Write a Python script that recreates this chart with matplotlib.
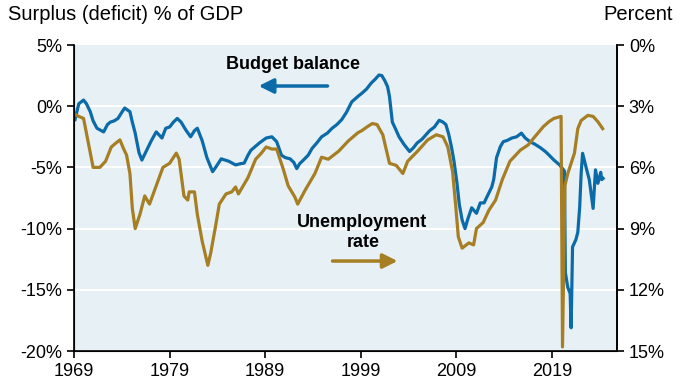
import matplotlib.pyplot as plt

plt.rcParams['font.family'] = ['Liberation Sans', 'DejaVu Sans']

# Budget balance, 12-month sum, % of GDP (left axis)
budget_years = [1969.1, 1969.5, 1970.0, 1970.3, 1970.7, 1971.0, 1971.4, 1972.1, 1972.5, 1972.8,
                1973.2, 1973.6, 1974.0, 1974.3, 1974.85, 1975.1, 1975.4, 1975.8, 1976.1, 1976.6,
                1977.1, 1977.6, 1978.2, 1978.6, 1979.0, 1979.4, 1979.8, 1980.2, 1980.7, 1981.2,
                1981.6, 1981.9, 1982.4, 1982.9, 1983.5, 1983.9, 1984.4, 1985.2, 1985.9, 1986.4,
                1986.8, 1987.2, 1987.5, 1988.4, 1989.1, 1989.7, 1990.2, 1990.7, 1991.1, 1991.6,
                1992.0, 1992.3, 1992.6, 1993.0, 1993.5, 1993.9, 1994.4, 1994.9, 1995.5, 1996.0,
                1996.5, 1997.0, 1997.5, 1998.05, 1998.7, 1999.1, 1999.6, 2000.1, 2000.5, 2000.9,
                2001.2, 2001.5, 2001.8, 2002.0, 2002.3, 2002.6, 2003.0, 2003.5, 2004.1, 2004.5,
                2004.9, 2005.4, 2005.8, 2006.2, 2006.7, 2007.2, 2007.6, 2007.9, 2008.2, 2008.5,
                2008.75, 2009.05, 2009.3, 2009.6, 2009.9, 2010.2, 2010.6, 2011.1, 2011.5, 2011.9,
                2012.2, 2012.7, 2012.9, 2013.2, 2013.6, 2013.9, 2014.3, 2014.8, 2015.3, 2015.8,
                2016.2, 2016.7, 2017.2, 2017.8, 2018.3, 2018.7, 2019.2, 2019.8, 2020.1, 2020.3,
                2020.4, 2020.65, 2020.9, 2021.0, 2021.15, 2021.5, 2021.7, 2021.9, 2022.05, 2022.2,
                2022.6, 2022.9, 2023.3, 2023.45, 2023.55, 2023.8, 2024.1, 2024.2, 2024.35]
budget_vals = [-1.1, 0.2, 0.5, 0.2, -0.45, -1.2, -1.8, -2.1, -1.5, -1.3,
               -1.2, -1.0, -0.5, -0.15, -0.45, -1.3, -2.2, -3.8, -4.4, -3.6,
               -2.8, -2.1, -2.6, -1.8, -1.7, -1.3, -1.0, -1.3, -1.95, -2.5,
               -2.0, -1.8, -2.8, -4.2, -5.35, -4.9, -4.3, -4.5, -4.8, -4.7,
               -4.65, -4.0, -3.6, -3.0, -2.6, -2.5, -2.9, -4.0, -4.2, -4.3,
               -4.6, -5.1, -4.7, -4.4, -4.0, -3.45, -3.0, -2.5, -2.2, -1.8,
               -1.5, -1.1, -0.5, 0.35, 0.8, 1.05, 1.4, 1.9, 2.2, 2.55,
               2.5, 2.1, 1.6, 0.8, -1.3, -1.8, -2.5, -3.1, -3.7, -3.4,
               -3.0, -2.7, -2.35, -2.0, -1.7, -1.15, -1.3, -1.5, -2.3, -3.4,
               -4.5, -6.2, -8.0, -9.3, -10.0, -9.2, -8.3, -8.75, -7.9, -7.9,
               -7.4, -6.6, -6.0, -4.2, -3.3, -2.9, -2.8, -2.6, -2.5, -2.2,
               -2.6, -2.9, -3.1, -3.4, -3.7, -4.0, -4.4, -4.8, -5.1, -5.3,
               -13.6, -14.8, -15.3, -18.1, -11.5, -10.9, -10.3, -8.2, -5.5, -3.85,
               -5.1, -6.0, -8.35, -6.5, -5.2, -6.3, -5.4, -6.0, -5.9]

# Unemployment rate, % (right axis, inverted)
unemp_years = [1969.1, 1969.5, 1970.0, 1970.5, 1971.0, 1971.7, 1972.3, 1972.9, 1973.4, 1973.8,
               1974.2, 1974.5, 1974.85, 1975.1, 1975.4, 1975.9, 1976.4, 1976.9, 1977.6, 1978.3,
               1979.0, 1979.7, 1980.0, 1980.5, 1980.9, 1981.05, 1981.6, 1981.9, 1982.4, 1983.0,
               1983.3, 1983.8, 1984.2, 1984.9, 1985.5, 1985.9, 1986.2, 1986.7, 1987.2, 1988.0,
               1988.6, 1989.1, 1989.7, 1990.2, 1990.9, 1991.4, 1992.1, 1992.4, 1993.2, 1994.2,
               1994.9, 1995.6, 1996.7, 1997.7, 1998.7, 1999.1, 1999.7, 2000.2, 2000.7, 2001.3,
               2001.7, 2002.0, 2002.7, 2003.4, 2003.9, 2004.95, 2006.0, 2006.9, 2007.6, 2008.1,
               2008.6, 2008.95, 2009.2, 2009.6, 2010.3, 2010.8, 2011.1, 2011.8, 2012.4, 2013.1,
               2013.8, 2014.6, 2015.7, 2016.5, 2017.2, 2018.1, 2018.7, 2019.2, 2019.95, 2020.1,
               2020.35, 2020.65, 2021.0, 2021.35, 2021.7, 2022.05, 2022.75, 2023.3, 2023.8, 2024.3]
unemp_vals = [3.4, 3.5, 3.6, 4.8, 6.0, 6.0, 5.7, 5.0, 4.8, 4.65,
              5.1, 5.4, 6.3, 8.0, 9.0, 8.3, 7.4, 7.8, 6.9, 6.0,
              5.8, 5.3, 5.6, 7.4, 7.6, 7.2, 7.2, 8.3, 9.6, 10.8,
              10.2, 8.9, 7.8, 7.3, 7.2, 6.96, 7.3, 6.9, 6.5, 5.6,
              5.3, 5.0, 5.1, 5.1, 6.1, 6.9, 7.45, 7.8, 7.1, 6.3,
              5.5, 5.6, 5.2, 4.7, 4.3, 4.2, 4.0, 3.85, 3.9, 4.4,
              5.2, 5.8, 5.9, 6.3, 5.7, 5.2, 4.65, 4.4, 4.5, 5.0,
              6.2, 8.0, 9.4, 9.96, 9.7, 9.8, 9.0, 8.7, 8.1, 7.6,
              6.6, 5.7, 5.15, 4.9, 4.5, 4.0, 3.75, 3.6, 3.5, 14.8,
              6.9, 6.3, 5.8, 5.3, 4.1, 3.7, 3.45, 3.5, 3.76, 4.1]

x_ticks = [1969, 1979, 1989, 1999, 2009, 2019]
left_ticks = [5, 0, -5, -10, -15, -20]
right_ticks = [0, 3, 6, 9, 12, 15]

blue = '#0b6aa8'
gold = '#a67e24'

fig = plt.figure(figsize=(6.84, 3.88), dpi=100)
ax = fig.add_axes([74 / 684, 1 - 351 / 388, 543 / 684, 306 / 388])
ax.set_facecolor('#e7f0f4')

for v in [0, -5, -10, -15]:
    ax.axhline(v, color='white', lw=1.5, zorder=1)

ax.plot(budget_years, budget_vals, color=blue, lw=2.3, zorder=3)
ax.set_xlim(1969, 2025.8)
ax.set_ylim(-20, 5)
ax.set_xticks(x_ticks)
ax.set_yticks(left_ticks)
ax.set_yticklabels([f'{t}%' for t in left_ticks])
ax.spines['top'].set_visible(False)
for s in ['left', 'right', 'bottom']:
    ax.spines[s].set_linewidth(1.2)
ax.tick_params(axis='both', labelsize=13, length=5, width=1.2, direction='out')

ax2 = ax.twinx()
ax2.plot(unemp_years, unemp_vals, color=gold, lw=2.3)
ax2.set_ylim(15, 0)
ax2.set_yticks(right_ticks)
ax2.set_yticklabels([f'{t}%' for t in right_ticks])
ax2.spines['top'].set_visible(False)
ax2.spines['right'].set_linewidth(1.2)
ax2.tick_params(axis='y', labelsize=13, length=5, width=1.2, direction='out')

# labels above the axes
fig.text(8 / 684, 1 - 15 / 388, 'Surplus (deficit) % of GDP', fontsize=14.5, va='center', ha='left')
fig.text(673 / 684, 1 - 15 / 388, 'Percent', fontsize=14.5, va='center', ha='right')

# annotations
ax.text(0.403, 0.935, 'Budget balance', transform=ax.transAxes, fontsize=13,
        fontweight='bold', ha='center', va='center')
ax.annotate('', xy=(0.335, 0.866), xytext=(0.472, 0.866), xycoords='axes fraction',
            arrowprops=dict(arrowstyle='-|>', color=blue, lw=2.5, mutation_scale=22))
ax2.text(0.530, 0.421, 'Unemployment', transform=ax.transAxes, fontsize=13,
         fontweight='bold', ha='center', va='center')
ax2.text(0.532, 0.353, 'rate', transform=ax.transAxes, fontsize=13,
         fontweight='bold', ha='center', va='center')
ax2.annotate('', xy=(0.601, 0.294), xytext=(0.471, 0.294), xycoords='axes fraction',
             arrowprops=dict(arrowstyle='-|>', color=gold, lw=2.5, mutation_scale=22))

fig.savefig('out.png', dpi=100)
